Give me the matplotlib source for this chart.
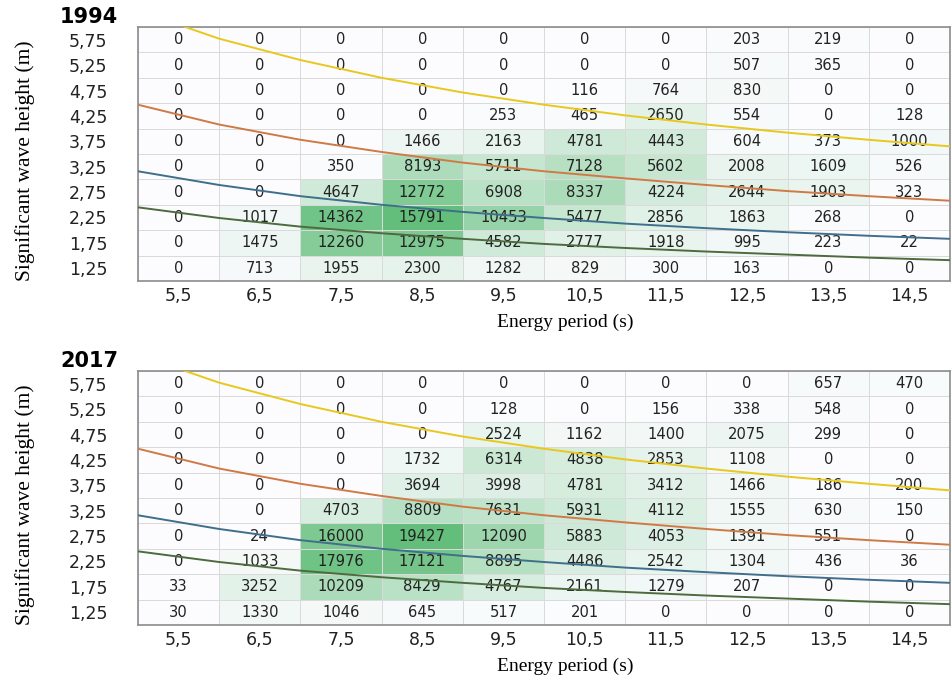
import numpy as np
import matplotlib.pyplot as plt
from matplotlib.colors import LinearSegmentedColormap

plt.rcParams['font.family'] = 'DejaVu Sans'

# wave scatter tables: rows = Hs bins (low -> high), cols = Te bins
te_bins = [5.5, 6.5, 7.5, 8.5, 9.5, 10.5, 11.5, 12.5, 13.5, 14.5]
hs_bins = [1.25, 1.75, 2.25, 2.75, 3.25, 3.75, 4.25, 4.75, 5.25, 5.75]

occ_1994 = [
    [0, 713, 1955, 2300, 1282, 829, 300, 163, 0, 0],
    [0, 1475, 12260, 12975, 4582, 2777, 1918, 995, 223, 22],
    [0, 1017, 14362, 15791, 10453, 5477, 2856, 1863, 268, 0],
    [0, 0, 4647, 12772, 6908, 8337, 4224, 2644, 1903, 323],
    [0, 0, 350, 8193, 5711, 7128, 5602, 2008, 1609, 526],
    [0, 0, 0, 1466, 2163, 4781, 4443, 604, 373, 1000],
    [0, 0, 0, 0, 253, 465, 2650, 554, 0, 128],
    [0, 0, 0, 0, 0, 116, 764, 830, 0, 0],
    [0, 0, 0, 0, 0, 0, 0, 507, 365, 0],
    [0, 0, 0, 0, 0, 0, 0, 203, 219, 0],
]

occ_2017 = [
    [30, 1330, 1046, 645, 517, 201, 0, 0, 0, 0],
    [33, 3252, 10209, 8429, 4767, 2161, 1279, 207, 0, 0],
    [0, 1033, 17976, 17121, 8895, 4486, 2542, 1304, 436, 36],
    [0, 24, 16000, 19427, 12090, 5883, 4053, 1391, 551, 0],
    [0, 0, 4703, 8809, 7631, 5931, 4112, 1555, 630, 150],
    [0, 0, 0, 3694, 3998, 4781, 3412, 1466, 186, 200],
    [0, 0, 0, 1732, 6314, 4838, 2853, 1108, 0, 0],
    [0, 0, 0, 0, 2524, 1162, 1400, 2075, 299, 0],
    [0, 0, 0, 0, 128, 0, 156, 338, 548, 0],
    [0, 0, 0, 0, 0, 0, 0, 0, 657, 470],
]

# iso-power curves, Hs read along Te
curve_te = [5, 6, 7, 8, 9, 10, 11, 12, 13, 14, 15]
curve_yellow = [6.32, 5.77, 5.35, 5.0, 4.71, 4.47, 4.26, 4.08, 3.92, 3.78, 3.65]
curve_orange = [4.47, 4.08, 3.78, 3.54, 3.33, 3.16, 3.02, 2.89, 2.77, 2.67, 2.58]
curve_blue = [3.16, 2.89, 2.67, 2.50, 2.36, 2.24, 2.13, 2.04, 1.96, 1.89, 1.83]
curve_green = [2.45, 2.24, 2.07, 1.94, 1.83, 1.73, 1.65, 1.58, 1.52, 1.46, 1.41]

curves = [(curve_yellow, '#e8c81c'), (curve_orange, '#cf7a45'),
          (curve_blue, '#3f6f8c'), (curve_green, '#4d6b3e')]

cmap = LinearSegmentedColormap.from_list('xl_green', ['#fcfcff', '#63be7b'])

fig = plt.figure(figsize=(9.53, 6.83), dpi=100)
W, H = 953, 683


def draw_table(top_px, data, year):
    left, right, bottom = 138, 950, top_px + 254
    ax = fig.add_axes([left / W, 1 - bottom / H, (right - left) / W, 254 / H])
    arr = np.array(data, dtype=float)
    edges_x = np.arange(5, 16)
    edges_y = np.arange(1.0, 6.01, 0.5)
    ax.pcolormesh(edges_x, edges_y, arr, cmap=cmap, vmin=0, vmax=arr.max(),
                  edgecolor='#dadada', linewidth=0.5)
    for r, hs in enumerate(hs_bins):
        for c, te in enumerate(te_bins):
            ax.text(te, hs, str(data[r][c]), ha='center', va='center',
                    fontsize=10.6, color='#222222', zorder=2)
    for ys, col in curves:
        ax.plot(curve_te, ys, color=col, lw=1.4, zorder=3)
    ax.set_xlim(5, 15)
    ax.set_ylim(1, 6)
    ax.set_xticks(te_bins)
    ax.set_xticklabels([str(v).replace('.', ',') for v in te_bins], fontsize=12.5)
    ax.set_yticks(hs_bins)
    ax.set_yticklabels([f'{v:.2f}'.replace('.', ',') for v in hs_bins], fontsize=12.5)
    ax.tick_params(length=0, pad=4, colors='#222222')
    ax.tick_params(axis='y', pad=22)
    for s in ax.spines.values():
        s.set_color('#8c8c8c')
        s.set_linewidth(1.2)
    fig.text(60 / W, 1 - (top_px - 4) / H, year, fontsize=15, fontweight='bold',
             va='baseline', ha='left')
    fig.text(565 / W, 1 - (top_px + 295) / H, 'Energy period (s)',
             family='Liberation Serif', fontsize=14, ha='center', va='center')
    fig.text(25 / W, 1 - (top_px + 134) / H, 'Significant wave height (m)',
             family='Liberation Serif', fontsize=15.5, ha='center', va='center',
             rotation=90)
    return ax


draw_table(27, occ_1994, '1994')
draw_table(371, occ_2017, '2017')

fig.savefig('out.png', dpi=100)
